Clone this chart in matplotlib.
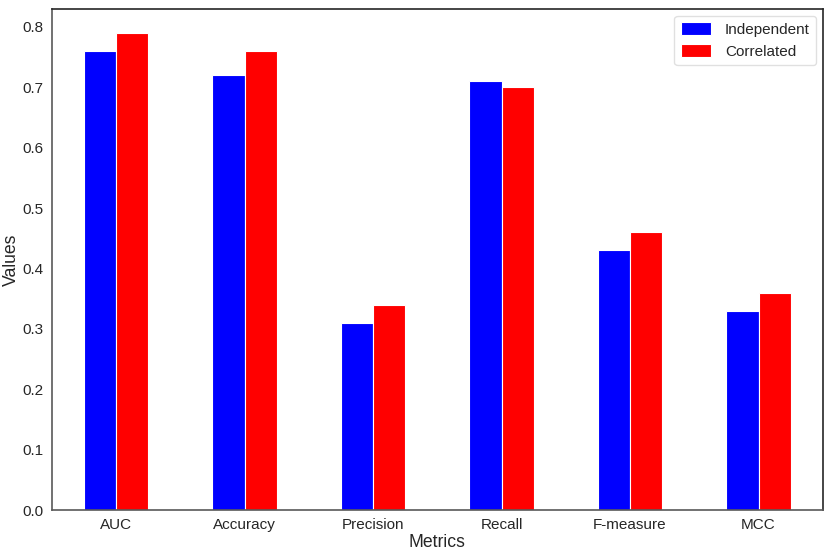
import matplotlib
matplotlib.use("Agg")
import matplotlib.pyplot as plt
import numpy as np
import seaborn as sns

metrics = ["AUC", "Accuracy", "Precision", "Recall", "F-measure", "MCC"]
independent = [0.76, 0.72, 0.31, 0.71, 0.43, 0.33]
correlated = [0.79, 0.76, 0.34, 0.70, 0.46, 0.36]
series_names = ["Independent", "Correlated"]

sns.set_style("white")
plt.rcParams['font.family'] = ['Liberation Sans', 'DejaVu Sans']

fig = plt.figure(figsize=(8.3, 5.51), dpi=100)
ax = fig.add_axes([51.75/830, 1-510/551, 771/830, 501/551])

x = np.arange(len(metrics))
w = 0.25
ax.bar(x - w/2, independent, w, color="#0000ff", edgecolor="white", linewidth=0.8, label=series_names[0])
ax.bar(x + w/2, correlated, w, color="#ff0000", edgecolor="white", linewidth=0.8, label=series_names[1])

ax.set_xlim(-0.5, len(metrics) - 0.5)
ax.set_ylim(0, max(max(independent), max(correlated)) * 1.05)
ax.set_xticks(x)
ax.set_xticklabels(metrics)
ax.set_yticks(np.arange(0, 0.81, 0.1))
ax.set_yticklabels([f"{v:.1f}" for v in np.arange(0, 0.81, 0.1)])
ax.tick_params(axis='both', labelsize=11, colors='0.15', length=0, pad=6)
ax.set_xlabel("Metrics", fontsize=12.7, color='0.15', labelpad=1)
ax.set_ylabel("Values", fontsize=12.7, color='0.15', labelpad=2)
for name, s in ax.spines.items():
    s.set_color('0.15' if name in ('top', 'right') else '0.35')
    s.set_linewidth(1.2)
leg = ax.legend(loc="upper right", fontsize=11, frameon=True, handletextpad=0.9,
                handleheight=0.9, borderaxespad=0.45)
leg.get_frame().set_edgecolor('0.85')

fig.savefig("out.png", dpi=100)
